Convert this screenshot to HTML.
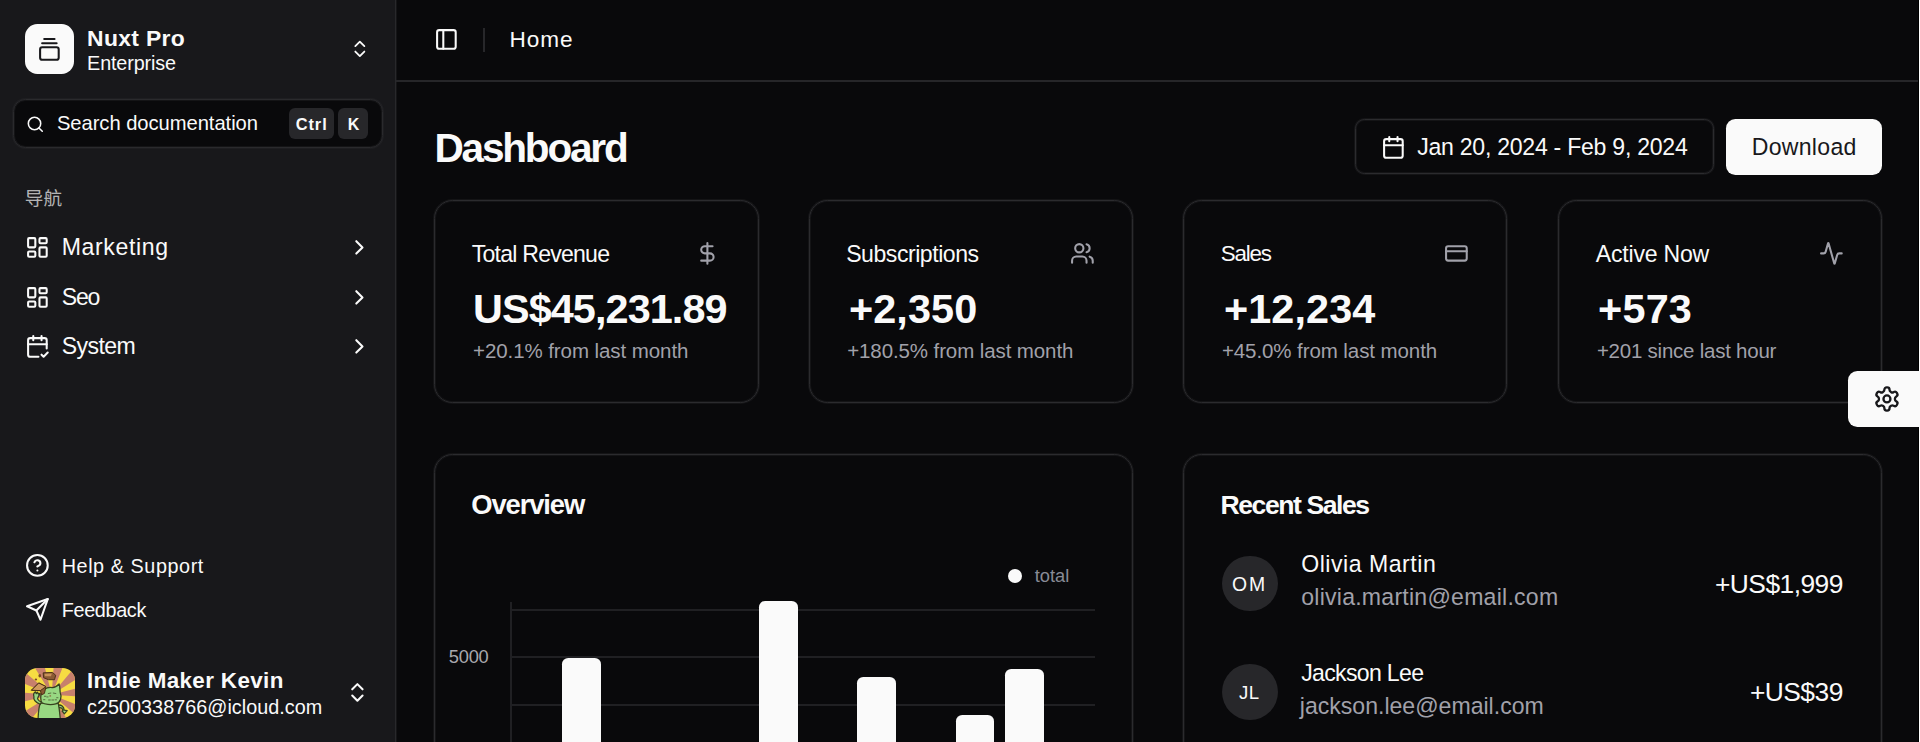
<!DOCTYPE html>
<html lang="zh-CN">
<head>
<meta charset="utf-8">
<title>Dashboard - Nuxt Pro</title>
<style>
*{box-sizing:border-box;margin:0;padding:0}
html,body{width:1920px;height:742px;overflow:hidden;background:#09090b}
body{position:relative;font-family:"Liberation Sans","Noto Sans CJK SC",sans-serif;color:#fafafa;-webkit-font-smoothing:antialiased}
.t{position:absolute;white-space:nowrap;display:block;font-weight:400;font-style:normal}
ul,ol{list-style:none}
.ic{position:absolute;display:block;overflow:hidden}
.abs{position:absolute}
aside{position:absolute;left:0;top:0;width:396px;height:742px;background:#18181b;border-right:1px solid #28282b;box-shadow:1px 0 0 #151517}
header{position:absolute;left:0;top:0;width:1920px;height:82px}
.hline{position:absolute;left:396px;top:80px;width:1524px;height:2px;background:#262629}
main{position:absolute;left:0;top:0;width:1920px;height:742px}
.soft{box-shadow:0 0 0 1px rgba(46,46,50,.3),inset 0 0 0 1px rgba(46,46,50,.3)}
.card{position:absolute;border:1px solid #2b2b2e;border-radius:18.6px;background:#09090b}
.btn{position:absolute;border-radius:9.3px}
.kbd{position:absolute;background:#27272a;border-radius:6px}
.av{position:absolute;width:55.8px;height:55.8px;border-radius:50%;background:#27272a}
.grid{position:absolute;height:2px;background:#202023;left:512px;width:583px}
.bar{position:absolute;width:38.7px;background:#fafafa;border-radius:6.2px 6.2px 0 0;bottom:0}
</style>
</head>
<body>

<aside>
<div class="team">
<div class="abs" style="left:24.8px;top:24.3px;width:49.6px;height:49.8px;border-radius:12.4px;background:#fafafa"></div>
<svg class="ic " style="left:37.20px;top:36.80px" width="24.8" height="24.8" viewBox="0 0 24 24" fill="none" stroke="#18181b" stroke-width="2" stroke-linecap="round" stroke-linejoin="round"><path d="M7 2h10"/><path d="M5 6h14"/><rect width="18" height="12" x="3" y="10" rx="2"/></svg>
<span class="t" style="left:87.10px;top:26.81px;font-size:22.9px;line-height:22.9px;letter-spacing:0.325px;font-weight:700;">Nuxt Pro</span>
<span class="t" style="left:87.10px;top:53.94px;font-size:19.79px;line-height:19.79px;letter-spacing:-0.145px;">Enterprise</span>
<svg class="ic " style="left:348.50px;top:38.45px" width="21.7" height="21.7" viewBox="0 0 24 24" fill="none" stroke="#fafafa" stroke-width="2" stroke-linecap="round" stroke-linejoin="round"><path d="m7 15 5 5 5-5"/><path d="m7 9 5-5 5 5"/></svg>
</div>
<form role="search">
<div class="abs soft" style="left:13px;top:99px;width:369.5px;height:49px;border-radius:12.4px;background:#09090b;border:1px solid #2a2a2d"></div>
<svg class="ic " style="left:26.30px;top:115.00px" width="18.6" height="18.6" viewBox="0 0 24 24" fill="none" stroke="#fafafa" stroke-width="2" stroke-linecap="round" stroke-linejoin="round"><circle cx="11" cy="11" r="8"/><path d="m21 21-4.3-4.3"/></svg>
<span class="t" style="left:56.90px;top:113.20px;font-size:20.2px;line-height:20.2px;letter-spacing:-0.048px;">Search documentation</span>
<div class="kbd" style="left:289px;top:108.3px;width:45.4px;height:30.8px"></div>
<div class="kbd" style="left:337.5px;top:108.3px;width:30.8px;height:30.8px"></div>
<span class="t" style="left:295.80px;top:116.31px;font-size:16.4px;line-height:16.4px;letter-spacing:0.886px;font-weight:700;">Ctrl</span>
<span class="t" style="left:347.80px;top:116.65px;font-size:16.0px;line-height:16.0px;letter-spacing:0.000px;font-weight:700;">K</span>
</form>
<nav aria-label="导航">
<h4 class="t" style="left:24.8px;top:186px;font-size:18.6px;line-height:25px;color:rgba(250,250,250,.7)">导航</h4>
<ul>
<li>
<svg class="ic " style="left:24.80px;top:235.10px" width="24.8" height="24.8" viewBox="0 0 24 24" fill="none" stroke="#fafafa" stroke-width="2" stroke-linecap="round" stroke-linejoin="round"><rect width="7" height="9" x="3" y="3" rx="1"/><rect width="7" height="5" x="14" y="3" rx="1"/><rect width="7" height="9" x="14" y="12" rx="1"/><rect width="7" height="5" x="3" y="16" rx="1"/></svg>
<span class="t" style="left:61.70px;top:236.25px;font-size:23.09px;line-height:23.09px;letter-spacing:0.626px;">Marketing</span>
<svg class="ic " style="left:347.20px;top:235.10px" width="24.8" height="24.8" viewBox="0 0 24 24" fill="none" stroke="#fafafa" stroke-width="2" stroke-linecap="round" stroke-linejoin="round"><path d="m9 18 6-6-6-6"/></svg>
</li>
<li>
<svg class="ic " style="left:24.80px;top:284.70px" width="24.8" height="24.8" viewBox="0 0 24 24" fill="none" stroke="#fafafa" stroke-width="2" stroke-linecap="round" stroke-linejoin="round"><rect width="7" height="9" x="3" y="3" rx="1"/><rect width="7" height="5" x="14" y="3" rx="1"/><rect width="7" height="9" x="14" y="12" rx="1"/><rect width="7" height="5" x="3" y="16" rx="1"/></svg>
<span class="t" style="left:61.70px;top:285.85px;font-size:23.09px;line-height:23.09px;letter-spacing:-1.189px;">Seo</span>
<svg class="ic " style="left:347.20px;top:284.70px" width="24.8" height="24.8" viewBox="0 0 24 24" fill="none" stroke="#fafafa" stroke-width="2" stroke-linecap="round" stroke-linejoin="round"><path d="m9 18 6-6-6-6"/></svg>
</li>
<li>
<svg class="ic " style="left:24.80px;top:334.30px" width="24.8" height="24.8" viewBox="0 0 24 24" fill="none" stroke="#fafafa" stroke-width="2" stroke-linecap="round" stroke-linejoin="round"><path d="M8 2v4"/><path d="M16 2v4"/><path d="M21 14V6a2 2 0 0 0-2-2H5a2 2 0 0 0-2 2v14a2 2 0 0 0 2 2h8"/><path d="M3 10h18"/><path d="m16 20 2 2 4-4"/></svg>
<span class="t" style="left:61.70px;top:335.45px;font-size:23.09px;line-height:23.09px;letter-spacing:-0.576px;">System</span>
<svg class="ic " style="left:347.20px;top:334.30px" width="24.8" height="24.8" viewBox="0 0 24 24" fill="none" stroke="#fafafa" stroke-width="2" stroke-linecap="round" stroke-linejoin="round"><path d="m9 18 6-6-6-6"/></svg>
</li>
</ul>
</nav>
<ul>
<li>
<svg class="ic " style="left:24.80px;top:553.10px" width="24.8" height="24.8" viewBox="0 0 24 24" fill="none" stroke="#fafafa" stroke-width="2" stroke-linecap="round" stroke-linejoin="round"><circle cx="12" cy="12" r="10"/><path d="M9.09 9a3 3 0 0 1 5.83 1c0 2-3 3-3 3"/><path d="M12 17h.01"/></svg>
<span class="t" style="left:61.70px;top:556.74px;font-size:19.79px;line-height:19.79px;letter-spacing:0.576px;">Help &amp; Support</span>
</li>
<li>
<svg class="ic " style="left:24.80px;top:596.60px" width="24.8" height="24.8" viewBox="0 0 24 24" fill="none" stroke="#fafafa" stroke-width="2" stroke-linecap="round" stroke-linejoin="round"><path d="m22 2-7 20-4-9-9-4Z"/><path d="M22 2 11 13"/></svg>
<span class="t" style="left:61.70px;top:600.54px;font-size:19.79px;line-height:19.79px;letter-spacing:-0.322px;">Feedback</span>
</li>
</ul>
<footer>
<svg class="ic" style="left:24.8px;top:667.7px;border-radius:12.4px" width="50.1" height="50.1" viewBox="60 70 620 620">
<rect x="60" y="70" width="620" height="620" fill="#f6dc42"/>
<path d="M390 400L-34 -278L196 -376ZM390 400L446 -398L690 -342ZM390 400L904 -213L1068 -24ZM390 400L1166 206L1188 456ZM390 400L1132 700L1003 914ZM390 400L814 1078L584 1176ZM390 400L334 1198L90 1142ZM390 400L-124 1013L-288 824ZM390 400L-386 594L-408 344ZM390 400L-352 100L-223 -114Z" fill="#c7806c"/>
<g stroke="#37421f" stroke-width="16" stroke-linejoin="round" fill="#98d882">
<path d="M465 530C510 520 540 550 545 590L582 598L547 637L520 602L530 596C525 572 500 556 470 562Z"/>
<path d="M222 700C225 600 235 540 250 505L470 505C485 560 490 640 497 700Z"/>
<path d="M250 520C200 500 160 470 170 420C160 400 170 372 190 365L200 388L215 370L226 392L246 385C236 410 216 430 216 452C222 472 242 482 262 492Z"/>
<path d="M255 440C250 340 330 300 400 312C432 312 452 300 482 268C496 300 490 340 496 372C520 430 500 500 440 515C380 530 300 520 270 500C256 480 255 460 255 440Z"/>
</g>
<g stroke="#4a2e16" stroke-width="12" stroke-linejoin="round">
<path d="M140 345L230 255L320 300L300 385L265 402L250 350Z" fill="#8a5a34"/>
<path d="M140 345L230 255L320 300L250 350Z" fill="#d09a5e"/>
<path d="M285 130L400 125L440 160L425 215L350 215L290 190Z" fill="#8a5a34"/>
<path d="M302 142L392 138L382 172L306 172Z" fill="#c8925a" stroke="none"/>
</g>
<ellipse cx="243" cy="165" rx="17" ry="22" fill="#7a4a28"/><ellipse cx="195" cy="212" rx="15" ry="13" fill="#7a4a28"/>
<path d="M348 386L380 380M410 380L442 386M300 420h18M330 428h16M290 462h16M352 466h22M392 466h22M432 464h18M452 438h16" stroke="#3f4a2a" stroke-width="9" stroke-linecap="round" fill="none"/>
<ellipse cx="372" cy="416" rx="12" ry="8" fill="#8a5a34"/>
</svg>
<span class="t" style="left:87.00px;top:670.23px;font-size:22.4px;line-height:22.4px;letter-spacing:0.371px;font-weight:700;">Indie Maker Kevin</span>
<span class="t" style="left:87.00px;top:697.84px;font-size:19.79px;line-height:19.79px;letter-spacing:0.036px;">c2500338766@icloud.com</span>
<svg class="ic " style="left:345.00px;top:679.60px" width="24.8" height="24.8" viewBox="0 0 24 24" fill="none" stroke="#fafafa" stroke-width="2" stroke-linecap="round" stroke-linejoin="round"><path d="m7 15 5 5 5-5"/><path d="m7 9 5-5 5 5"/></svg>
</footer>
</aside>
<header>
<svg class="ic " style="left:433.90px;top:27.40px" width="24.8" height="24.8" viewBox="0 0 24 24" fill="none" stroke="#fafafa" stroke-width="2" stroke-linecap="round" stroke-linejoin="round"><rect width="18" height="18" x="3" y="3" rx="2"/><path d="M9 3v18"/></svg>
<div class="abs" style="left:483px;top:27.5px;width:1.5px;height:24.8px;background:#27272a"></div>
<nav aria-label="breadcrumb"><ol><li>
<span class="t" style="left:509.50px;top:29.46px;font-size:22.6px;line-height:22.6px;letter-spacing:0.968px;">Home</span>
</li></ol></nav>
<div class="hline"></div>
</header>
<main>
<h1 class="t" style="left:434.50px;top:127.55px;font-size:40.57px;line-height:40.57px;letter-spacing:-2.212px;font-weight:700;">Dashboard</h1>
<div class="btn soft" style="left:1355px;top:119px;width:359px;height:55px;border:1px solid #2b2b2e"></div>
<svg class="ic " style="left:1381.20px;top:134.60px" width="24.8" height="24.8" viewBox="0 0 24 24" fill="none" stroke="#fafafa" stroke-width="2" stroke-linecap="round" stroke-linejoin="round"><path d="M8 2v4"/><path d="M16 2v4"/><rect width="18" height="18" x="3" y="4" rx="2"/><path d="M3 10h18"/></svg>
<span class="t" style="left:1417.20px;top:136.15px;font-size:23.09px;line-height:23.09px;letter-spacing:-0.264px;">Jan 20, 2024 - Feb 9, 2024</span>
<div class="btn" style="left:1726.2px;top:118.8px;width:156px;height:55.9px;background:#fafafa"></div>
<span class="t" style="left:1751.70px;top:135.85px;font-size:23.09px;line-height:23.09px;letter-spacing:0.288px;color:#18181b;">Download</span>
<section>
<div class="card soft" style="left:434px;top:200px;width:325px;height:203px"></div>
<h3 class="t" style="left:471.70px;top:242.55px;font-size:23.09px;line-height:23.09px;letter-spacing:-0.768px;">Total Revenue</h3>
<span class="t" style="left:473.00px;top:288.65px;font-size:41.4px;line-height:41.4px;letter-spacing:-0.919px;font-weight:700;">US$45,231.89</span>
<p class="t" style="left:473.00px;top:340.64px;font-size:20.5px;line-height:20.5px;letter-spacing:-0.079px;color:#a1a1aa;">+20.1% from last month</p>
<svg class="ic " style="left:695.10px;top:241.30px" width="24.8" height="24.8" viewBox="0 0 24 24" fill="none" stroke="#a1a1aa" stroke-width="2" stroke-linecap="round" stroke-linejoin="round"><line x1="12" x2="12" y1="2" y2="22"/><path d="M17 5H9.5a3.5 3.5 0 0 0 0 7h5a3.5 3.5 0 0 1 0 7H6"/></svg>
</section>
<section>
<div class="card soft" style="left:809px;top:200px;width:324px;height:203px"></div>
<h3 class="t" style="left:846.20px;top:242.55px;font-size:23.09px;line-height:23.09px;letter-spacing:-0.467px;">Subscriptions</h3>
<span class="t" style="left:848.90px;top:288.65px;font-size:41.4px;line-height:41.4px;letter-spacing:0.108px;font-weight:700;">+2,350</span>
<p class="t" style="left:847.20px;top:340.64px;font-size:20.5px;line-height:20.5px;letter-spacing:-0.103px;color:#a1a1aa;">+180.5% from last month</p>
<svg class="ic " style="left:1069.70px;top:241.30px" width="24.8" height="24.8" viewBox="0 0 24 24" fill="none" stroke="#a1a1aa" stroke-width="2" stroke-linecap="round" stroke-linejoin="round"><path d="M16 21v-2a4 4 0 0 0-4-4H6a4 4 0 0 0-4 4v2"/><circle cx="9" cy="7" r="4"/><path d="M22 21v-2a4 4 0 0 0-3-3.87"/><path d="M16 3.13a4 4 0 0 1 0 7.75"/></svg>
</section>
<section>
<div class="card soft" style="left:1183px;top:200px;width:324px;height:203px"></div>
<h3 class="t" style="left:1220.80px;top:243.14px;font-size:22.39px;line-height:22.39px;letter-spacing:-1.199px;">Sales</h3>
<span class="t" style="left:1223.90px;top:288.65px;font-size:41.4px;line-height:41.4px;letter-spacing:0.113px;font-weight:700;">+12,234</span>
<p class="t" style="left:1221.90px;top:340.64px;font-size:20.5px;line-height:20.5px;letter-spacing:-0.084px;color:#a1a1aa;">+45.0% from last month</p>
<svg class="ic " style="left:1444.30px;top:241.30px" width="24.8" height="24.8" viewBox="0 0 24 24" fill="none" stroke="#a1a1aa" stroke-width="2" stroke-linecap="round" stroke-linejoin="round"><rect width="20" height="14" x="2" y="5" rx="2"/><line x1="2" x2="22" y1="10" y2="10"/></svg>
</section>
<section>
<div class="card soft" style="left:1558px;top:200px;width:324px;height:203px"></div>
<h3 class="t" style="left:1595.80px;top:242.55px;font-size:23.09px;line-height:23.09px;letter-spacing:-0.216px;">Active Now</h3>
<span class="t" style="left:1598.10px;top:288.65px;font-size:41.4px;line-height:41.4px;letter-spacing:0.189px;font-weight:700;">+573</span>
<p class="t" style="left:1596.90px;top:340.64px;font-size:20.5px;line-height:20.5px;letter-spacing:-0.239px;color:#a1a1aa;">+201 since last hour</p>
<svg class="ic " style="left:1818.90px;top:241.30px" width="24.8" height="24.8" viewBox="0 0 24 24" fill="none" stroke="#a1a1aa" stroke-width="2" stroke-linecap="round" stroke-linejoin="round"><path d="M22 12h-2.48a2 2 0 0 0-1.93 1.46l-2.35 8.36a.25.25 0 0 1-.48 0L9.24 2.18a.25.25 0 0 0-.48 0l-2.35 8.36A2 2 0 0 1 4.49 12H2"/></svg>
</section>
<section>
<div class="card soft" style="left:434px;top:454px;width:699px;height:320px"></div>
<h3 class="t" style="left:471.20px;top:491.10px;font-size:27.4px;line-height:27.4px;letter-spacing:-1.100px;font-weight:700;">Overview</h3>
<div class="abs" style="left:1007.8px;top:568.6px;width:14.2px;height:14.2px;border-radius:50%;background:#fafafa"></div>
<span class="t" style="left:1034.80px;top:567.21px;font-size:18.3px;line-height:18.3px;letter-spacing:-0.022px;color:#888b96;">total</span>
<span class="t" style="left:448.80px;top:648.21px;font-size:18.3px;line-height:18.3px;letter-spacing:-0.239px;color:#a8a8ad;">5000</span>
<div class="abs" style="left:510px;top:602px;width:2px;height:140px;background:#202023"></div>
<div class="grid" style="top:609.0px"></div>
<div class="grid" style="top:656.4px"></div>
<div class="grid" style="top:703.8px"></div>
<div class="abs" style="left:0;top:0;width:1920px;height:742px;overflow:hidden">
<div class="bar" style="left:562.4px;height:83.6px"></div>
<div class="bar" style="left:759.1px;height:140.6px"></div>
<div class="bar" style="left:857.4px;height:64.7px"></div>
<div class="bar" style="left:955.7px;height:27.3px"></div>
<div class="bar" style="left:1004.9px;height:73.3px"></div>
</div>
</section>
<section>
<div class="card soft" style="left:1183px;top:454px;width:699px;height:320px"></div>
<h3 class="t" style="left:1220.50px;top:491.78px;font-size:26.6px;line-height:26.6px;letter-spacing:-1.447px;font-weight:700;">Recent Sales</h3>
<div class="av" style="left:1221.8px;top:555.5px"></div>
<span class="t" style="left:1231.90px;top:574.67px;font-size:19.4px;line-height:19.4px;letter-spacing:2.047px;">OM</span>
<span class="t" style="left:1301.20px;top:553.25px;font-size:23.09px;line-height:23.09px;letter-spacing:0.524px;">Olivia Martin</span>
<span class="t" style="left:1301.20px;top:585.95px;font-size:23.09px;line-height:23.09px;letter-spacing:0.239px;color:#a1a1aa;">olivia.martin@email.com</span>
<span class="t" style="left:1715.00px;top:570.66px;font-size:26.39px;line-height:26.39px;letter-spacing:-0.549px;">+US$1,999</span>
<div class="av" style="left:1221.8px;top:663.8px"></div>
<span class="t" style="left:1239.00px;top:683.65px;font-size:18.6px;line-height:18.6px;letter-spacing:0.458px;">JL</span>
<span class="t" style="left:1301.20px;top:662.15px;font-size:23.09px;line-height:23.09px;letter-spacing:-0.675px;">Jackson Lee</span>
<span class="t" style="left:1299.78px;top:694.55px;font-size:23.09px;line-height:23.09px;letter-spacing:-0.003px;color:#a1a1aa;">jackson.lee@email.com</span>
<span class="t" style="left:1749.90px;top:678.96px;font-size:26.39px;line-height:26.39px;letter-spacing:-0.522px;">+US$39</span>
</section>
<div class="abs" style="left:1918px;top:0;width:1px;height:742px;background:#000"></div>
<div class="abs" style="left:1919px;top:0;width:1px;height:742px;background:#fff"></div>
<div class="abs" style="left:1848px;top:371px;width:72px;height:56px;background:#fafafa;border-radius:9.3px 0 0 9.3px"></div>
<svg class="ic " style="left:1872.70px;top:385.30px" width="27.9" height="27.9" viewBox="0 0 24 24" fill="none" stroke="#18181b" stroke-width="2" stroke-linecap="round" stroke-linejoin="round"><path d="M12.22 2h-.44a2 2 0 0 0-2 2v.18a2 2 0 0 1-1 1.73l-.43.25a2 2 0 0 1-2 0l-.15-.08a2 2 0 0 0-2.73.73l-.22.38a2 2 0 0 0 .73 2.73l.15.1a2 2 0 0 1 1 1.72v.51a2 2 0 0 1-1 1.74l-.15.09a2 2 0 0 0-.73 2.73l.22.38a2 2 0 0 0 2.73.73l.15-.08a2 2 0 0 1 2 0l.43.25a2 2 0 0 1 1 1.73V20a2 2 0 0 0 2 2h.44a2 2 0 0 0 2-2v-.18a2 2 0 0 1 1-1.73l.43-.25a2 2 0 0 1 2 0l.15.08a2 2 0 0 0 2.73-.73l.22-.39a2 2 0 0 0-.73-2.73l-.15-.08a2 2 0 0 1-1-1.74v-.5a2 2 0 0 1 1-1.74l.15-.09a2 2 0 0 0 .73-2.73l-.22-.38a2 2 0 0 0-2.73-.73l-.15.08a2 2 0 0 1-2 0l-.43-.25a2 2 0 0 1-1-1.73V4a2 2 0 0 0-2-2z"/><circle cx="12" cy="12" r="3"/></svg>
</main>
</body>
</html>
